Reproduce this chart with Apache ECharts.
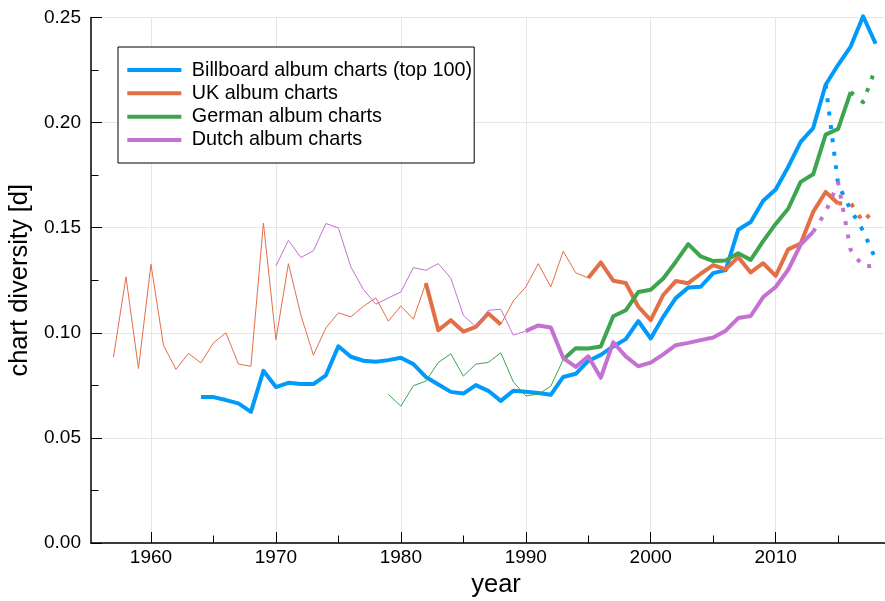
<!DOCTYPE html>
<html>
<head>
<meta charset="utf-8">
<script src="https://cdn.jsdelivr.net/npm/echarts@6/dist/echarts.min.js"></script>
<style>html,body{margin:0;padding:0;background:#fff}#chart{width:885px;height:601px}</style>
</head>
<body>
<div id="chart"></div>
<script>
// ---- data (year start + values for each drawn segment) ----
const xTickLabels = [1960, 1970, 1980, 1990, 2000, 2010];
const xMinorTicks = [1965, 1975, 1985, 1995, 2005, 2015];

const billboardStart = 1964;
const billboardValues = [0.0695, 0.0694, 0.0680, 0.0664, 0.0624, 0.0819, 0.0742, 0.0762, 0.0756, 0.0756,
  0.0798, 0.0936, 0.0886, 0.0867, 0.0862, 0.0870, 0.0881, 0.0851, 0.0790, 0.0754,
  0.0719, 0.0711, 0.0751, 0.0724, 0.0676, 0.0724, 0.0719, 0.0714, 0.0705, 0.0790,
  0.0805, 0.0866, 0.0895, 0.0935, 0.0970, 0.1056, 0.0973, 0.1076, 0.1165, 0.1215,
  0.1219, 0.1284, 0.1298, 0.1490, 0.1527, 0.1628, 0.1682, 0.1789, 0.1908, 0.1974,
  0.2180, 0.2275, 0.2362, 0.2506, 0.2375];
const billboardProjStart = 2014;
const billboardProj = [0.2180, 0.1705, 0.1586, 0.1485, 0.1350];

const ukThinAStart = 1957;
const ukThinA = [0.0885, 0.1266, 0.0830, 0.1326, 0.0941, 0.0826, 0.0902, 0.0857, 0.0952, 0.1000,
  0.0851, 0.0841, 0.1522, 0.0967, 0.1329, 0.1084, 0.0894, 0.1023, 0.1095, 0.1076,
  0.1126, 0.1166, 0.1055, 0.1128, 0.1065, 0.1237];
const ukThickAStart = 1982;
const ukThickA = [0.1237, 0.1012, 0.1060, 0.1006, 0.1028, 0.1092, 0.1039];
const ukThinBStart = 1988;
const ukThinB = [0.1039, 0.1152, 0.1218, 0.1329, 0.1218, 0.1388, 0.1285, 0.1261];
const ukThickBStart = 1995;
const ukThickB = [0.1261, 0.1335, 0.1248, 0.1237, 0.1125, 0.1060, 0.1180, 0.1246, 0.1236, 0.1281,
  0.1322, 0.1302, 0.1360, 0.1287, 0.1331, 0.1271, 0.1397, 0.1425, 0.1575, 0.1670, 0.1615];
const ukProjStart = 2015;
const ukProj = [0.1615, 0.1618, 0.1528, 0.1595];

const germanThinStart = 1979;
const germanThin = [0.0707, 0.0651, 0.0748, 0.0770, 0.0859, 0.0900, 0.0794, 0.0851, 0.0859, 0.0905,
  0.0767, 0.0700, 0.0708, 0.0746, 0.0873];
const germanThickStart = 1993;
const germanThick = [0.0873, 0.0927, 0.0925, 0.0935, 0.1079, 0.1107, 0.1194, 0.1205, 0.1258, 0.1337,
  0.1422, 0.1363, 0.1341, 0.1344, 0.1378, 0.1347, 0.1436, 0.1518, 0.1590, 0.1718,
  0.1754, 0.1943, 0.1970, 0.2145];
const germanProjStart = 2016;
const germanProj = [0.2145, 0.2097, 0.2260];

const dutchThinStart = 1970;
const dutchThin = [0.1318, 0.1440, 0.1358, 0.1390, 0.1520, 0.1499, 0.1313, 0.1206, 0.1136, 0.1166,
  0.1194, 0.1310, 0.1298, 0.1329, 0.1260, 0.1084, 0.1028, 0.1107, 0.1112, 0.0989, 0.1008];
const dutchThickStart = 1990;
const dutchThick = [0.1008, 0.1035, 0.1025, 0.0880, 0.0838, 0.0888, 0.0786, 0.0955, 0.0888, 0.0841,
  0.0858, 0.0897, 0.0941, 0.0952, 0.0965, 0.0978, 0.1010, 0.1070, 0.1080, 0.1170,
  0.1218, 0.1300, 0.1420, 0.1480];
const dutchProjStart = 2013;
const dutchProj = [0.1480, 0.1575, 0.1714, 0.1395, 0.1315, 0.1320];

const names = ['Billboard album charts (top 100)', 'UK album charts', 'German album charts', 'Dutch album charts'];
const colors = ['#009afa', '#e36f47', '#3ea44e', '#c371d2'];

// ---- build ----
const seg = (start, vals) => vals.map((v, i) => [start + i, v]);
const FONT = 'Liberation Sans, Arial, Helvetica, sans-serif';

function line(name, color, start, vals, kind) {
  const ls = { color: color, width: 4, cap: 'butt', join: 'round' };
  if (kind === 'thin') ls.width = 1;
  if (kind === 'dot') { ls.type = [4, 9.5]; ls.cap = 'butt'; }
  return {
    type: 'line', name: name, data: seg(start, vals), color: color,
    symbol: 'none', clip: false, lineStyle: ls, silent: true, animation: false,
    xAxisIndex: 0, yAxisIndex: 0
  };
}

const series = [
  line(names[0], colors[0], billboardStart, billboardValues, 'thick'),
  line('bb_proj', colors[0], billboardProjStart, billboardProj, 'dot'),
  line('uk_thinA', colors[1], ukThinAStart, ukThinA, 'thin'),
  line(names[1], colors[1], ukThickAStart, ukThickA, 'thick'),
  line('uk_thinB', colors[1], ukThinBStart, ukThinB, 'thin'),
  line(names[1], colors[1], ukThickBStart, ukThickB, 'thick'),
  line('uk_proj', colors[1], ukProjStart, ukProj, 'dot'),
  line('de_thin', colors[2], germanThinStart, germanThin, 'thin'),
  line(names[2], colors[2], germanThickStart, germanThick, 'thick'),
  line('de_proj', colors[2], germanProjStart, germanProj, 'dot'),
  line('nl_thin', colors[3], dutchThinStart, dutchThin, 'thin'),
  line(names[3], colors[3], dutchThickStart, dutchThick, 'thick'),
  line('nl_proj', colors[3], dutchProjStart, dutchProj, 'dot')
];

const chart = echarts.init(document.getElementById('chart'), null, { renderer: 'canvas' });
chart.setOption({
  backgroundColor: '#fff',
  animation: false,
  textStyle: { fontFamily: FONT },
  grid: { left: 91, right: 0, top: 17.5, bottom: 58, containLabel: false, outerBoundsMode: 'none' },
  legend: {
    data: names, orient: 'vertical', left: 118, top: 47,
    padding: [11.4, 2, 11.4, 9.3], itemGap: 0, itemWidth: 54, itemHeight: 4,
    icon: 'rect', borderColor: '#000', borderWidth: 1, borderRadius: 0,
    backgroundColor: '#fff', selectedMode: false,
    formatter: n => ' ' + n,
    textStyle: { fontSize: 19.8, lineHeight: 23.3, color: '#000', fontFamily: FONT }
  },
  xAxis: [{
    type: 'value', min: 1955.2, max: 2018.75,
    name: 'year', nameLocation: 'middle', nameGap: 28,
    nameTextStyle: { fontSize: 25.5, color: '#000', fontFamily: FONT, padding: [0, 0, 0, 16] },
    axisLine: { show: true, onZero: false, lineStyle: { color: '#000', width: 1.5 } },
    axisTick: { show: true, inside: true, length: 11, customValues: xTickLabels, lineStyle: { color: '#000', width: 1 } },
    axisLabel: { customValues: xTickLabels, fontSize: 19, color: '#000', margin: 5, fontFamily: FONT, formatter: v => String(v) },
    splitLine: { show: true, lineStyle: { color: '#e6e6e6', width: 1 } },
    minorTick: { show: false }
  }, {
    type: 'value', min: 1955.2, max: 2018.75, position: 'bottom',
    axisLine: { show: false },
    axisTick: { show: true, inside: true, length: 7.5, customValues: xMinorTicks, lineStyle: { color: '#000', width: 1 } },
    axisLabel: { show: false },
    splitLine: { show: false }
  }],
  yAxis: {
    type: 'value', min: 0, max: 0.25, interval: 0.05,
    name: 'chart diversity [d]', nameLocation: 'middle', nameGap: 56, nameRotate: 90,
    nameTextStyle: { fontSize: 25.5, color: '#000', fontFamily: FONT },
    axisLine: { show: true, lineStyle: { color: '#000', width: 1.5 } },
    axisTick: { show: true, inside: true, length: 11, lineStyle: { color: '#000', width: 1 } },
    minorTick: { show: true, splitNumber: 2, length: 7.5, lineStyle: { color: '#000', width: 1 } },
    axisLabel: { fontSize: 19, color: '#000', margin: 10, fontFamily: FONT, formatter: v => v.toFixed(2) },
    splitLine: { show: true, lineStyle: { color: '#e6e6e6', width: 1 } }
  },
  series: series
});
</script>
</body>
</html>
